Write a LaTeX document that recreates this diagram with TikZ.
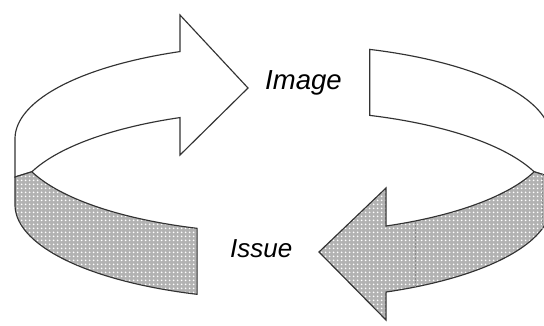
\documentclass[tikz,border=0pt]{standalone}
\usepackage{fontspec}
\setmainfont{Liberation Sans}
\usetikzlibrary{patterns}

% white dot screen laid over the grey fill
\pgfdeclarepatternformonly{halftone}{\pgfqpoint{0pt}{0pt}}{\pgfqpoint{4pt}{4pt}}{\pgfqpoint{4pt}{4pt}}{%
  \pgfpathcircle{\pgfqpoint{2pt}{2pt}}{1.15pt}\pgfusepath{fill}}

% ring geometry: centre, half axes of the rim, band height
\def\cx{283}
\def\cy{138.8}
\def\ea{268}
\def\eb{94.5}
\def\hh{66}

\tikzset{
  outline/.style={draw=black!80, line width=1.15pt, line join=miter},
  whiteface/.style={outline, fill=white},
  greyface/.style={outline,
    preaction={fill=black!30},
    preaction={pattern=halftone, pattern color=white}},
  seam/.style={draw=black!45, line width=0.5pt, dash pattern=on 2pt off 1.5pt},
  caption/.style={inner sep=0pt, anchor=base west, font=\itshape\fontsize{26}{26}\selectfont}
}

\begin{document}
\begin{tikzpicture}[x=1pt, y=-1pt]
  \path[use as bounding box, clip] (0,0) rectangle (544,325);

  % upper arrow, running along the back of the ring
  \path[whiteface] (15,\cy)
    -- plot[domain=180:247.4, samples=50] ({\cx+\ea*cos(\x)},{\cy+\eb*sin(\x)})
    -- (180,15) -- (248,88) -- (180,155)
    -- plot[domain=247.4:200.4, samples=50] ({\cx+\ea*cos(\x)},{\cy+\hh+\eb*sin(\x)})
    -- (15,177) -- cycle;

  % back band on the right
  \path[whiteface]
    plot[domain=288.9:360, samples=50] ({\cx+\ea*cos(\x)},{\cy+\eb*sin(\x)})
    -- (551,177)
    -- plot[domain=339.6:288.9, samples=50] ({\cx+\ea*cos(\x)},{\cy+\hh+\eb*sin(\x)})
    -- cycle;

  % lower arrow, running along the front of the ring
  \path[greyface]
    plot[domain=20.4:67.4, samples=50] ({\cx+\ea*cos(\x)},{\cy+\eb*sin(\x)})
    -- (386,188) -- (319,252) -- (386,320)
    -- plot[domain=67.4:0, samples=50] ({\cx+\ea*cos(\x)},{\cy+\hh+\eb*sin(\x)})
    -- (551,177) -- cycle;

  % front band on the left
  \path[greyface]
    plot[domain=159.6:108.7, samples=50] ({\cx+\ea*cos(\x)},{\cy+\eb*sin(\x)})
    -- plot[domain=108.7:180, samples=50] ({\cx+\ea*cos(\x)},{\cy+\hh+\eb*sin(\x)})
    -- (15,177) -- cycle;

  % faint joins in the grey band
  \path[seam] (415,221.5) -- (415,286.5);
  \path[seam] (542,174) -- (542,229);

  \node[caption, font=\itshape\fontsize{27.5}{27.5}\selectfont] (image) at (265,89) {Image};
  \node[caption] (issue) at (230,257) {Issue};
\end{tikzpicture}
\end{document}
